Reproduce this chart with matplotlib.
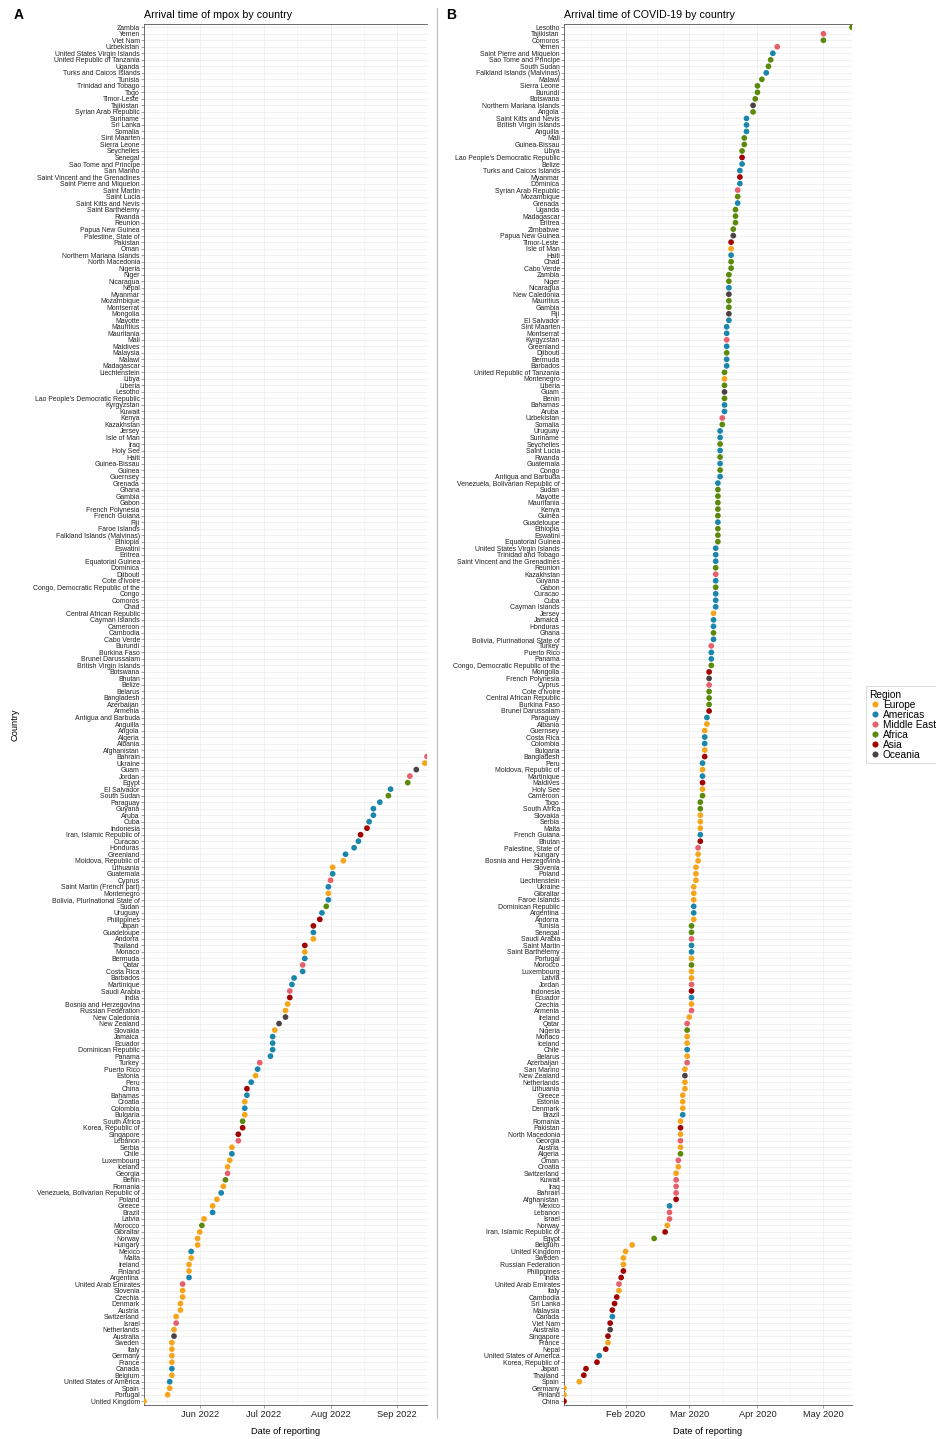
import matplotlib
matplotlib.use("Agg")
import matplotlib.pyplot as plt
import matplotlib.dates as mdates
from matplotlib.lines import Line2D
import numpy as np
import pandas as pd

plt.rcParams["font.family"] = ["Liberation Sans", "DejaVu Sans"]

# Region colours
REGION_COLOURS = {
    "Europe": "#F5A51C",
    "Americas": "#1A86AB",
    "Middle East": "#E8606C",
    "Africa": "#5B8A0B",
    "Asia": "#A10202",
    "Oceania": "#4B4343",
}

EUROPE = [
    "Isle of Man", "Montenegro", "Jersey", "Albania", "Guernsey", "Bulgaria",
    "Moldova, Republic of", "Holy See", "Slovakia", "Serbia", "Malta", "Hungary",
    "Bosnia and Herzegovina", "Slovenia", "Poland", "Liechtenstein", "Ukraine",
    "Gibraltar", "Faroe Islands", "Andorra", "Portugal", "Luxembourg", "Latvia",
    "Czechia", "Ireland", "Monaco", "Iceland", "Belarus", "San Marino",
    "Netherlands", "Lithuania", "Greece", "Estonia", "Denmark", "Romania",
    "North Macedonia", "Austria", "Croatia", "Switzerland", "Norway", "Belgium",
    "United Kingdom", "Sweden", "Russian Federation", "Italy", "France", "Spain",
    "Germany", "Finland",
]
AMERICAS = [
    "Saint Pierre and Miquelon", "Falkland Islands (Malvinas)", "Saint Kitts and Nevis",
    "British Virgin Islands", "Anguilla", "Belize", "Turks and Caicos Islands",
    "Dominica", "Grenada", "Haiti", "Nicaragua", "El Salvador", "Sint Maarten",
    "Montserrat", "Greenland", "Bermuda", "Barbados", "Bahamas", "Aruba", "Uruguay",
    "Suriname", "Saint Lucia", "Guatemala", "Antigua and Barbuda",
    "Venezuela, Bolivarian Republic of", "Guadeloupe", "United States Virgin Islands",
    "Trinidad and Tobago", "Saint Vincent and the Grenadines", "Guyana", "Curacao",
    "Cuba", "Cayman Islands", "Jamaica", "Honduras", "Bolivia, Plurinational State of",
    "Puerto Rico", "Panama", "Paraguay", "Costa Rica", "Colombia", "Peru",
    "Martinique", "French Guiana", "Dominican Republic", "Argentina", "Saint Martin",
    "Saint Barthélemy", "Ecuador", "Chile", "Brazil", "Mexico", "Canada",
    "United States of America", "Saint Martin (French part)",
]
MIDDLE_EAST = [
    "Tajikistan", "Yemen", "Syrian Arab Republic", "Kyrgyzstan", "Uzbekistan",
    "Kazakhstan", "Turkey", "Cyprus", "Palestine, State of", "Saudi Arabia", "Jordan",
    "Armenia", "Qatar", "Azerbaijan", "Georgia", "Oman", "Kuwait", "Iraq", "Bahrain",
    "Lebanon", "Israel", "United Arab Emirates",
]
AFRICA = [
    "Lesotho", "Comoros", "Sao Tome and Principe", "South Sudan", "Malawi",
    "Sierra Leone", "Burundi", "Botswana", "Angola", "Mali", "Guinea-Bissau", "Libya",
    "Mozambique", "Uganda", "Madagascar", "Eritrea", "Zimbabwe", "Chad", "Cabo Verde",
    "Zambia", "Niger", "Mauritius", "Gambia", "Djibouti", "United Republic of Tanzania",
    "Liberia", "Benin", "Somalia", "Seychelles", "Rwanda", "Congo", "Sudan", "Mayotte",
    "Mauritania", "Kenya", "Guinea", "Ethiopia", "Eswatini", "Equatorial Guinea",
    "Reunion", "Gabon", "Ghana", "Congo, Democratic Republic of the", "Cote d'Ivoire",
    "Central African Republic", "Burkina Faso", "Cameroon", "Togo", "South Africa",
    "Tunisia", "Senegal", "Morocco", "Nigeria", "Algeria", "Egypt",
]
ASIA = [
    "Lao People's Democratic Republic", "Myanmar", "Timor-Leste", "Mongolia",
    "Brunei Darussalam", "Bangladesh", "Maldives", "Bhutan", "Indonesia", "Pakistan",
    "Afghanistan", "Iran, Islamic Republic of", "Philippines", "India", "Cambodia",
    "Sri Lanka", "Malaysia", "Viet Nam", "Singapore", "Nepal", "Korea, Republic of",
    "Japan", "Thailand", "China",
]
OCEANIA = [
    "Northern Mariana Islands", "Papua New Guinea", "New Caledonia", "Fiji", "Guam",
    "French Polynesia", "New Zealand", "Australia",
]

# Mpox: countries without a reported arrival (top of panel A)
MPOX_NO_ARRIVAL = [
    "Zambia", "Yemen", "Viet Nam", "Uzbekistan", "United States Virgin Islands",
    "United Republic of Tanzania", "Uganda", "Turks and Caicos Islands", "Tunisia",
    "Trinidad and Tobago", "Togo", "Timor-Leste", "Tajikistan", "Syrian Arab Republic",
    "Suriname", "Sri Lanka", "Somalia", "Sint Maarten", "Sierra Leone", "Seychelles",
    "Senegal", "Sao Tome and Principe", "San Marino", "Saint Vincent and the Grenadines",
    "Saint Pierre and Miquelon", "Saint Martin", "Saint Lucia", "Saint Kitts and Nevis",
    "Saint Barthélemy", "Rwanda", "Reunion", "Papua New Guinea", "Palestine, State of",
    "Pakistan", "Oman", "Northern Mariana Islands", "North Macedonia", "Nigeria",
    "Niger", "Nicaragua", "Nepal", "Myanmar", "Mozambique", "Montserrat", "Mongolia",
    "Mayotte", "Mauritius", "Mauritania", "Mali", "Maldives", "Malaysia", "Malawi",
    "Madagascar", "Liechtenstein", "Libya", "Liberia", "Lesotho",
    "Lao People's Democratic Republic", "Kyrgyzstan", "Kuwait", "Kenya", "Kazakhstan",
    "Jersey", "Isle of Man", "Iraq", "Holy See", "Haiti", "Guinea-Bissau", "Guinea",
    "Guernsey", "Grenada", "Ghana", "Gambia", "Gabon", "French Polynesia",
    "French Guiana", "Fiji", "Faroe Islands", "Falkland Islands (Malvinas)", "Ethiopia",
    "Eswatini", "Eritrea", "Equatorial Guinea", "Dominica", "Djibouti", "Cote d'Ivoire",
    "Congo, Democratic Republic of the", "Congo", "Comoros", "Chad",
    "Central African Republic", "Cayman Islands", "Cameroon", "Cambodia", "Cabo Verde",
    "Burundi", "Burkina Faso", "Brunei Darussalam", "British Virgin Islands",
    "Botswana", "Bhutan", "Belize", "Belarus", "Bangladesh", "Azerbaijan", "Armenia",
    "Antigua and Barbuda", "Anguilla", "Angola", "Algeria", "Albania", "Afghanistan",
]

# Mpox: reported arrivals, latest first
MPOX_COUNTRIES = [
    "Bahrain", "Ukraine", "Guam", "Jordan", "Egypt", "El Salvador", "South Sudan",
    "Paraguay", "Guyana", "Aruba", "Cuba", "Indonesia", "Iran, Islamic Republic of",
    "Curacao", "Honduras", "Greenland", "Moldova, Republic of", "Lithuania",
    "Guatemala", "Cyprus", "Saint Martin (French part)", "Montenegro",
    "Bolivia, Plurinational State of", "Sudan", "Uruguay", "Philippines", "Japan",
    "Guadeloupe", "Andorra", "Thailand", "Monaco", "Bermuda", "Qatar", "Costa Rica",
    "Barbados", "Martinique", "Saudi Arabia", "India", "Bosnia and Herzegovina",
    "Russian Federation", "New Caledonia", "New Zealand", "Slovakia", "Jamaica",
    "Ecuador", "Dominican Republic", "Panama", "Turkey", "Puerto Rico", "Estonia",
    "Peru", "China", "Bahamas", "Croatia", "Colombia", "Bulgaria", "South Africa",
    "Korea, Republic of", "Singapore", "Lebanon", "Serbia", "Chile", "Luxembourg",
    "Iceland", "Georgia", "Benin", "Romania", "Venezuela, Bolivarian Republic of",
    "Poland", "Greece", "Brazil", "Latvia", "Morocco", "Gibraltar", "Norway",
    "Hungary", "Mexico", "Malta", "Ireland", "Finland", "Argentina",
    "United Arab Emirates", "Slovenia", "Czechia", "Denmark", "Austria",
    "Switzerland", "Israel", "Netherlands", "Australia", "Sweden", "Italy", "Germany",
    "France", "Canada", "Belgium", "United States of America", "Spain", "Portugal",
    "United Kingdom",
]
MPOX_DATES = [
    "2022-09-15", "2022-09-14", "2022-09-10", "2022-09-07", "2022-09-06", "2022-08-29", "2022-08-28",
    "2022-08-24", "2022-08-21", "2022-08-21", "2022-08-19", "2022-08-18", "2022-08-15",
    "2022-08-14", "2022-08-12", "2022-08-08", "2022-08-07", "2022-08-02",
    "2022-08-02", "2022-08-01", "2022-07-31", "2022-07-31",
    "2022-07-31", "2022-07-30", "2022-07-28", "2022-07-27", "2022-07-24",
    "2022-07-24", "2022-07-24", "2022-07-20", "2022-07-20", "2022-07-20", "2022-07-19", "2022-07-19",
    "2022-07-15", "2022-07-14", "2022-07-13", "2022-07-13", "2022-07-12",
    "2022-07-11", "2022-07-11", "2022-07-08", "2022-07-06", "2022-07-05",
    "2022-07-05", "2022-07-05", "2022-07-04", "2022-06-29", "2022-06-28", "2022-06-27",
    "2022-06-25", "2022-06-23", "2022-06-23", "2022-06-22", "2022-06-22", "2022-06-22", "2022-06-21",
    "2022-06-21", "2022-06-19", "2022-06-19", "2022-06-16", "2022-06-16", "2022-06-15",
    "2022-06-14", "2022-06-14", "2022-06-13", "2022-06-12", "2022-06-11",
    "2022-06-09", "2022-06-07", "2022-06-07", "2022-06-03", "2022-06-02", "2022-06-01", "2022-05-31",
    "2022-05-31", "2022-05-28", "2022-05-28", "2022-05-27", "2022-05-27", "2022-05-27",
    "2022-05-24", "2022-05-24", "2022-05-24", "2022-05-23", "2022-05-23",
    "2022-05-21", "2022-05-21", "2022-05-20", "2022-05-20", "2022-05-19", "2022-05-19", "2022-05-19",
    "2022-05-19", "2022-05-19", "2022-05-19", "2022-05-18", "2022-05-18", "2022-05-17",
    "2022-05-06",
]

# COVID-19: reported arrivals, latest first
COVID_COUNTRIES = [
    "Lesotho", "Tajikistan", "Comoros", "Yemen", "Saint Pierre and Miquelon",
    "Sao Tome and Principe", "South Sudan", "Falkland Islands (Malvinas)", "Malawi",
    "Sierra Leone", "Burundi", "Botswana", "Northern Mariana Islands", "Angola",
    "Saint Kitts and Nevis", "British Virgin Islands", "Anguilla", "Mali",
    "Guinea-Bissau", "Libya", "Lao People's Democratic Republic", "Belize",
    "Turks and Caicos Islands", "Myanmar", "Dominica", "Syrian Arab Republic",
    "Mozambique", "Grenada", "Uganda", "Madagascar", "Eritrea", "Zimbabwe",
    "Papua New Guinea", "Timor-Leste", "Isle of Man",
    "Haiti", "Chad", "Cabo Verde", "Zambia", "Niger", "Nicaragua", "New Caledonia",
    "Mauritius", "Gambia", "Fiji", "El Salvador", "Sint Maarten", "Montserrat",
    "Kyrgyzstan", "Greenland", "Djibouti", "Bermuda", "Barbados",
    "United Republic of Tanzania", "Montenegro", "Liberia", "Guam", "Benin",
    "Bahamas", "Aruba", "Uzbekistan", "Somalia", "Uruguay", "Suriname", "Seychelles",
    "Saint Lucia", "Rwanda", "Guatemala", "Congo", "Antigua and Barbuda",
    "Venezuela, Bolivarian Republic of", "Sudan", "Mayotte", "Mauritania", "Kenya",
    "Guinea", "Guadeloupe", "Ethiopia", "Eswatini", "Equatorial Guinea",
    "United States Virgin Islands", "Trinidad and Tobago",
    "Saint Vincent and the Grenadines", "Reunion", "Kazakhstan", "Guyana", "Gabon",
    "Curacao", "Cuba", "Cayman Islands", "Jersey", "Jamaica", "Honduras", "Ghana",
    "Bolivia, Plurinational State of", "Turkey", "Puerto Rico", "Panama",
    "Congo, Democratic Republic of the", "Mongolia", "French Polynesia", "Cyprus",
    "Cote d'Ivoire", "Central African Republic", "Burkina Faso", "Brunei Darussalam",
    "Paraguay", "Albania", "Guernsey", "Costa Rica", "Colombia", "Bulgaria",
    "Bangladesh", "Peru", "Moldova, Republic of", "Martinique", "Maldives",
    "Holy See", "Cameroon", "Togo", "South Africa", "Slovakia", "Serbia", "Malta",
    "French Guiana", "Bhutan", "Palestine, State of", "Hungary",
    "Bosnia and Herzegovina", "Slovenia", "Poland", "Liechtenstein", "Ukraine",
    "Gibraltar", "Faroe Islands", "Dominican Republic", "Argentina", "Andorra",
    "Tunisia", "Senegal", "Saudi Arabia",
    "Saint Martin", "Saint Barthélemy", "Portugal", "Morocco", "Luxembourg", "Latvia",
    "Jordan", "Indonesia", "Ecuador", "Czechia", "Armenia", "Ireland", "Qatar",
    "Nigeria", "Monaco", "Iceland", "Chile", "Belarus", "Azerbaijan", "San Marino",
    "New Zealand", "Netherlands", "Lithuania", "Greece", "Estonia", "Denmark",
    "Brazil", "Romania", "Pakistan", "North Macedonia", "Georgia", "Austria",
    "Algeria", "Oman", "Croatia", "Switzerland",
    "Kuwait", "Iraq", "Bahrain", "Afghanistan", "Mexico", "Lebanon", "Israel",
    "Norway", "Iran, Islamic Republic of", "Egypt", "Belgium", "United Kingdom",
    "Sweden", "Russian Federation", "Philippines", "India", "United Arab Emirates",
    "Italy", "Cambodia", "Sri Lanka", "Malaysia", "Canada", "Viet Nam", "Australia",
    "Singapore", "France", "Nepal", "United States of America", "Korea, Republic of",
    "Japan", "Thailand", "Spain", "Germany", "Finland", "China",
]
COVID_DATES = (
    ["2020-05-14", "2020-05-01", "2020-05-01", "2020-04-10", "2020-04-08",
     "2020-04-07", "2020-04-06", "2020-04-05", "2020-04-03",
     "2020-04-01", "2020-04-01", "2020-03-31", "2020-03-30", "2020-03-30"]
    + ["2020-03-27"] * 3 + ["2020-03-26"] * 2 + ["2020-03-25"] * 3
    + ["2020-03-24"] * 3 + ["2020-03-23"] * 3 + ["2020-03-22"] * 3
    + ["2020-03-21"] * 2 + ["2020-03-20"] * 5 + ["2020-03-19"] * 8
    + ["2020-03-18"] * 7 + ["2020-03-17"] * 7 + ["2020-03-16"] * 2
    + ["2020-03-15"] * 8 + ["2020-03-14"] * 10 + ["2020-03-13"] * 10
    + ["2020-03-12"] * 5 + ["2020-03-11"] * 4 + ["2020-03-10"] * 7
    + ["2020-03-09"] * 2 + ["2020-03-08"] * 5 + ["2020-03-07"] * 6
    + ["2020-03-06"] * 7 + ["2020-03-05"] * 3 + ["2020-03-04"] * 3
    + ["2020-03-03"] * 6 + ["2020-03-02"] * 14 + ["2020-03-01"]
    + ["2020-02-29"] * 7 + ["2020-02-28"] * 4 + ["2020-02-27"] * 4
    + ["2020-02-26"] * 6 + ["2020-02-25"] * 2 + ["2020-02-24"] * 5
    + ["2020-02-21"] * 3
    + ["2020-02-20", "2020-02-19", "2020-02-14", "2020-02-04", "2020-02-01",
       "2020-01-31", "2020-01-31", "2020-01-31", "2020-01-30", "2020-01-29",
       "2020-01-29", "2020-01-28", "2020-01-27", "2020-01-26", "2020-01-26",
       "2020-01-25", "2020-01-25", "2020-01-24", "2020-01-24", "2020-01-23",
       "2020-01-20", "2020-01-19", "2020-01-14", "2020-01-13", "2020-01-11",
       "2020-01-04", "2020-01-04", "2020-01-04"]
)

MPOX_MONTHS = ["2022-05-01", "2022-06-01", "2022-07-01", "2022-08-01", "2022-09-01", "2022-10-01"]
COVID_MONTHS = ["2020-01-01", "2020-02-01", "2020-03-01", "2020-04-01", "2020-05-01", "2020-06-01"]

REGION_OF = {}
for name, group in [("Europe", EUROPE), ("Americas", AMERICAS), ("Middle East", MIDDLE_EAST),
                    ("Africa", AFRICA), ("Asia", ASIA), ("Oceania", OCEANIA)]:
    for c in group:
        REGION_OF[c] = name

W, H = 936, 1439
AX_TOP, AX_BOTTOM = 24, 1404.5


def draw_panel(fig, left_px, right_px, countries, dates, months, title):
    ax = fig.add_axes([left_px / W, 1 - AX_BOTTOM / H,
                       (right_px - left_px) / W, (AX_BOTTOM - AX_TOP) / H])
    n = len(countries)
    ypos = np.arange(n)[::-1]
    dt = pd.to_datetime(pd.Series(dates))
    mask = dt.notna().to_numpy()
    x = mdates.date2num(dt[mask].dt.to_pydatetime())
    colours = [REGION_COLOURS[REGION_OF[c]] for c, m in zip(countries, mask) if m]
    ax.scatter(x, ypos[mask], s=17, c=colours, linewidths=0, zorder=3)

    ax.set_xlim(x.min(), x.max())
    ax.set_ylim(-0.5, n - 0.5)
    ax.set_yticks(ypos)
    ax.set_yticklabels(countries, fontsize=4.95, color="#222222")

    mnum = mdates.date2num(pd.to_datetime(months).to_pydatetime())
    lo, hi = x.min(), x.max()
    major = [m for m in mnum if lo <= m <= hi]
    minor = [(a + b) / 2 for a, b in zip(mnum[:-1], mnum[1:]) if lo <= (a + b) / 2 <= hi]
    ax.set_xticks(major)
    ax.set_xticklabels([mdates.num2date(m).strftime("%b %Y") for m in major],
                       fontsize=6.7, color="#222222")
    ax.set_xticks(minor, minor=True)

    ax.grid(True, which="major", axis="both", color="#EBEBEB", linewidth=0.5, zorder=0)
    ax.grid(True, which="minor", axis="x", color="#F0F0F0", linewidth=0.45, zorder=0)
    ax.set_axisbelow(True)
    ax.tick_params(axis="y", length=2, width=0.4, pad=1, color="#555555")
    ax.tick_params(axis="x", length=2.5, width=0.4, pad=1.5, color="#555555")
    ax.tick_params(axis="x", which="minor", length=0)
    for side in ["left", "bottom", "top"]:
        ax.spines[side].set_color("#555555")
        ax.spines[side].set_linewidth(0.6)
    ax.spines["right"].set_visible(False)

    fig.text(left_px / W, 1 - 15 / H, title, fontsize=7.7, va="center", ha="left")
    fig.text((left_px + right_px) / 2 / W, 1 - 1432 / H, "Date of reporting",
             fontsize=6.7, va="center", ha="center")
    return ax


fig = plt.figure(figsize=(W / 100, H / 100), dpi=100)

draw_panel(fig, 144, 427, MPOX_NO_ARRIVAL + MPOX_COUNTRIES,
           [None] * len(MPOX_NO_ARRIVAL) + MPOX_DATES, MPOX_MONTHS,
           "Arrival time of mpox by country")
draw_panel(fig, 564, 852, COVID_COUNTRIES, COVID_DATES, COVID_MONTHS,
           "Arrival time of COVID-19 by country")

fig.text(14 / W, 1 - 15 / H, "A", fontsize=10, fontweight="bold", va="center", ha="left")
fig.text(446 / W, 1 - 15 / H, "B", fontsize=10, fontweight="bold", va="center", ha="left")
fig.text(15 / W, 1 - 725 / H, "Country", fontsize=6.7, rotation=90, va="center", ha="center")

fig.add_artist(Line2D([437 / W, 437 / W], [1 - 8 / H, 1 - 1418 / H],
                      transform=fig.transFigure, color="#BBBBBB", linewidth=0.8))

handles = [Line2D([], [], marker="o", linestyle="", markersize=4.4,
                  markerfacecolor=col, markeredgewidth=0, label=name)
           for name, col in REGION_COLOURS.items()]
leg = fig.legend(handles=handles, title="Region", loc="upper left",
                 bbox_to_anchor=(866 / W, 1 - 686 / H), fontsize=7.3, title_fontsize=7.3,
                 alignment="left", frameon=True, edgecolor="#CCCCCC", fancybox=False,
                 handletextpad=0.3, labelspacing=0.0, borderpad=0.35, handlelength=1.0,
                 borderaxespad=0)
leg.get_frame().set_linewidth(0.6)

fig.savefig("out.png", dpi=100)
